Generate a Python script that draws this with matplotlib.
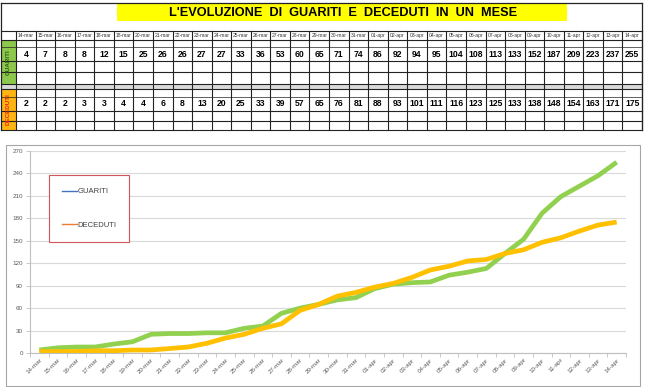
import matplotlib.pyplot as plt
from matplotlib.lines import Line2D
from matplotlib.patches import Rectangle

plt.rcParams['font.family'] = ['Liberation Sans', 'DejaVu Sans']

# Data
dates = ['14-mar', '15-mar', '16-mar', '17-mar', '18-mar', '19-mar', '20-mar', '21-mar',
         '22-mar', '23-mar', '24-mar', '25-mar', '26-mar', '27-mar', '28-mar', '29-mar',
         '30-mar', '31-mar', '01-apr', '02-apr', '03-apr', '04-apr', '05-apr', '06-apr',
         '07-apr', '08-apr', '09-apr', '10-apr', '11-apr', '12-apr', '13-apr', '14-apr']
# the sheet header repeats 18-mar in the sixth column
table_dates = dates[:5] + ['18-mar'] + dates[6:]
guariti = [4, 7, 8, 8, 12, 15, 25, 26, 26, 27, 27, 33, 36, 53, 60, 65,
           71, 74, 86, 92, 94, 95, 104, 108, 113, 133, 152, 187, 209, 223, 237, 255]
deceduti = [2, 2, 2, 3, 3, 4, 4, 6, 8, 13, 20, 25, 33, 39, 57, 65,
            76, 81, 88, 93, 101, 111, 116, 123, 125, 133, 138, 148, 154, 163, 171, 175]
title = "L'EVOLUZIONE  DI  GUARITI  E  DECEDUTI  IN  UN  MESE"

W, H = 650, 387
fig = plt.figure(figsize=(W / 100, H / 100), dpi=100)

# overlay in pixel coords for the sheet table and chart frame
bg = fig.add_axes([0, 0, 1, 1], zorder=0)
bg.set_xlim(0, W)
bg.set_ylim(H, 0)
bg.axis('off')

# table geometry
tx0, tx1 = 16, 642
ncol = len(table_dates)
colw = (tx1 - tx0) / ncol
rows = [31, 40, 47, 61, 72, 84, 89, 97, 111, 121, 130]

# title
bg.add_patch(Rectangle((117, 3), 450, 18, facecolor='#FFFF00', edgecolor='none'))
bg.text(343, 12.5, title, ha='center', va='center', fontsize=9.2, fontweight='bold')

# side labels and grey band
bg.add_patch(Rectangle((1, 40), tx0 - 1, 44, facecolor='#8CC84B', edgecolor='none'))
bg.add_patch(Rectangle((1, 89), tx0 - 1, 41, facecolor='#FFB511', edgecolor='none'))
bg.add_patch(Rectangle((1, 84), tx1 - 1, 5, facecolor='#D9D9D9', edgecolor='none'))
bg.text((1 + tx0) / 2, 62, 'GUARITI', rotation=90, ha='center', va='center',
        fontsize=4.5, fontweight='bold', color='#2E5E14')
bg.text((1 + tx0) / 2, 109, 'DECEDUTI', rotation=90, ha='center', va='center',
        fontsize=4.5, fontweight='bold', color='#E8231B')

# table lines
for y in rows:
    lw = 0.5 if y in (47, 97) else 0.8
    bg.plot([1, tx1], [y, y], color='#222222', lw=lw)
for i in range(ncol + 1):
    x = tx0 + i * colw
    bg.plot([x, x], [31, 130], color='#222222', lw=0.8)
bg.plot([1, 1], [3, 130], color='#222222', lw=0.9)
bg.plot([tx1, tx1], [3, 130], color='#222222', lw=0.9)
bg.plot([1, tx1], [3, 3], color='#222222', lw=0.9)

# table values
for i, d in enumerate(table_dates):
    cx = tx0 + (i + 0.5) * colw
    bg.text(cx, 35.5, d, ha='center', va='center', fontsize=3.6, color='#333333')
    bg.text(cx, 54.5, str(guariti[i]), ha='center', va='center', fontsize=6.2,
            fontweight='bold')
    bg.text(cx, 104, str(deceduti[i]), ha='center', va='center', fontsize=6.2,
            fontweight='bold')

# chart frame
bg.add_patch(Rectangle((6, 145), 634, 241, facecolor='none', edgecolor='#A6A6A6', lw=0.8))

# line chart
ax = fig.add_axes([30 / W, (H - 353) / H, 596 / W, 202 / H], zorder=1)
ax.patch.set_alpha(0)
x = list(range(len(dates)))
ax.plot(x, guariti, color='#92D050', lw=3.4, solid_capstyle='butt')
ax.plot(x, deceduti, color='#FFC000', lw=3.4, solid_capstyle='butt')

ax.set_xlim(-0.5, len(dates) - 0.5)
ax.set_ylim(0, 270)
ax.set_yticks(range(0, 271, 30))
ax.set_xticks(x)
ax.set_xticklabels(dates, rotation=45, ha='right', rotation_mode='anchor',
                   fontsize=4.5, color='#595959')
ax.set_xticks([i - 0.5 for i in range(len(dates) + 1)], minor=True)
ax.tick_params(axis='x', which='major', length=0, pad=3)
ax.tick_params(axis='x', which='minor', length=3, color='#BFBFBF', width=0.6)
ax.tick_params(axis='y', length=3, color='#BFBFBF', width=0.6, labelsize=4.5,
               labelcolor='#595959', pad=2)
ax.grid(axis='y', color='#D9D9D9', lw=0.8)
ax.set_axisbelow(True)
for s in ('top', 'right'):
    ax.spines[s].set_visible(False)
for s in ('left', 'bottom'):
    ax.spines[s].set_color('#BFBFBF')
    ax.spines[s].set_linewidth(0.8)

handles = [Line2D([], [], color='#4472C4', lw=1), Line2D([], [], color='#ED7D31', lw=1)]
leg = ax.legend(handles, ['GUARITI', 'DECEDUTI'], loc='upper left',
                bbox_to_anchor=(19 / 596, 178 / 202), borderaxespad=0,
                fontsize=5.5, handlelength=1.9, handletextpad=0.1,
                labelspacing=3.4, borderpad=1.7, fancybox=False, framealpha=1)
leg.get_frame().set_edgecolor('#D0545A')
leg.get_frame().set_linewidth(0.8)
for t in leg.get_texts():
    t.set_color('#404040')

fig.savefig('out.png', dpi=100)
